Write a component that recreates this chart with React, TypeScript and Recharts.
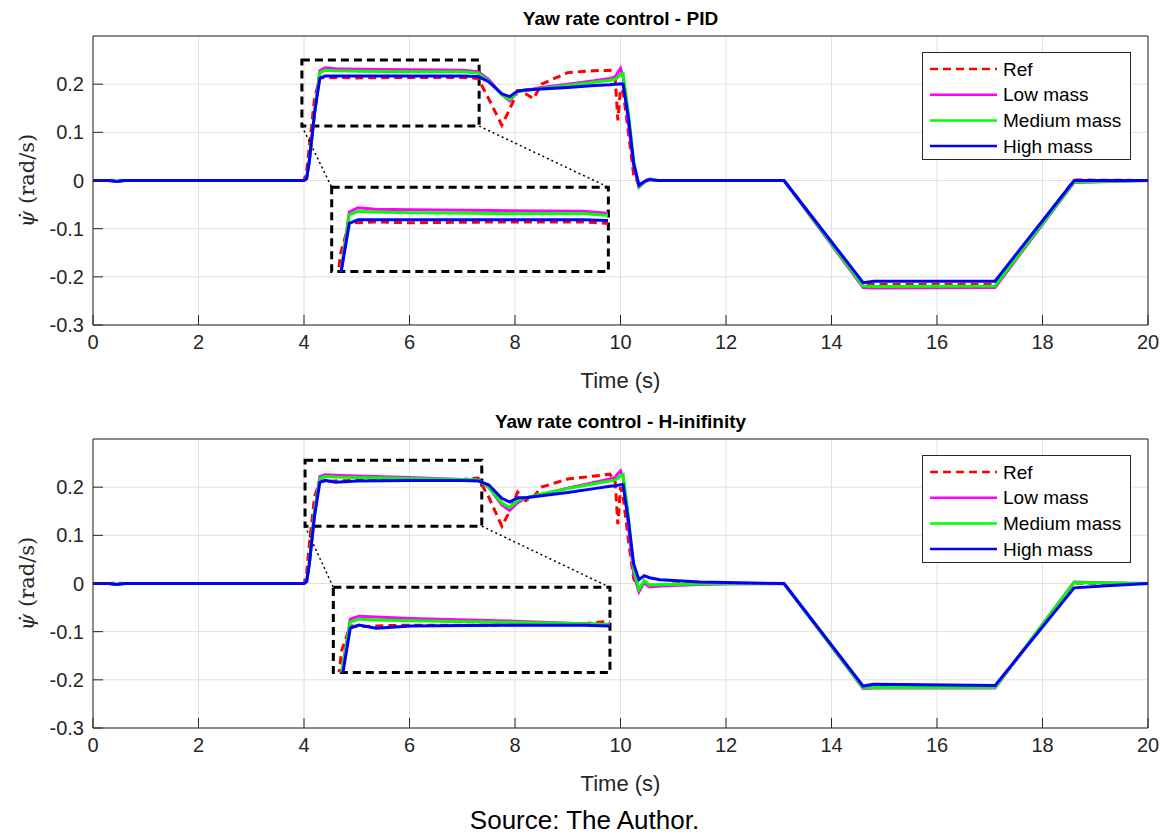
import React from "react";
import {
  LineChart, Line, XAxis, YAxis, CartesianGrid,
  ReferenceArea, ReferenceLine, Legend
} from "recharts";

// time axis and tick labels
const xTicks = [0, 2, 4, 6, 8, 10, 12, 14, 16, 18, 20];
const yTicks = [-0.3, -0.2, -0.1, 0, 0.1, 0.2];

// PID run (yaw rate, rad/s)
const pidTime = [0, 0.3, 0.45, 0.6, 4.0, 4.05, 4.1, 4.2, 4.3, 4.4, 4.6, 5, 6, 7, 7.3, 7.5, 7.75, 7.9, 8.05, 8.2, 8.35, 8.5, 9, 9.5, 9.8, 9.9, 9.95, 10.0, 10.05, 10.15, 10.25, 10.35, 10.45, 10.55, 10.7, 13.1, 14.6, 14.8, 17.1, 18.6, 20];
const pidRef = [0, 0, 0.001, 0, 0, 0.02, 0.07, 0.17, 0.214, 0.213, 0.214, 0.213, 0.214, 0.214, 0.212, 0.17, 0.115, 0.148, 0.186, 0.18, 0.17, 0.2, 0.224, 0.228, 0.229, 0.21, 0.125, 0.19, 0.185, 0.1, 0.012, -0.008, 0, 0.002, 0, 0, -0.215, -0.216, -0.216, 0.001, 0];
const pidLow = [0, 0, -0.002, 0, 0, 0.005, 0.04, 0.14, 0.228, 0.234, 0.232, 0.231, 0.23, 0.229, 0.226, 0.21, 0.178, 0.165, 0.185, 0.188, 0.19, 0.193, 0.2, 0.207, 0.212, 0.215, 0.224, 0.233, 0.215, 0.12, 0.03, -0.014, -0.004, 0.003, 0, 0, -0.222, -0.223, -0.222, -0.004, 0];
const pidMedium = [0, 0, -0.001, 0, 0, 0.005, 0.04, 0.14, 0.224, 0.229, 0.228, 0.227, 0.226, 0.226, 0.223, 0.207, 0.178, 0.168, 0.185, 0.187, 0.189, 0.191, 0.197, 0.204, 0.208, 0.21, 0.214, 0.221, 0.222, 0.14, 0.04, -0.013, -0.003, 0.003, 0, 0, -0.219, -0.22, -0.219, -0.003, 0];
const pidHigh = [0, 0, -0.002, 0, 0, 0.004, 0.04, 0.14, 0.212, 0.217, 0.217, 0.217, 0.217, 0.217, 0.216, 0.205, 0.18, 0.174, 0.186, 0.188, 0.189, 0.19, 0.193, 0.197, 0.199, 0.2, 0.2, 0.201, 0.2, 0.13, 0.035, -0.01, -0.002, 0.002, 0, 0, -0.212, -0.209, -0.209, 0, 0];

// H-infinity run
const hinfTime = [0, 0.3, 0.45, 0.6, 4.0, 4.05, 4.1, 4.2, 4.3, 4.4, 4.6, 5, 6, 7, 7.3, 7.5, 7.75, 7.9, 8.05, 8.2, 8.35, 8.5, 9, 9.5, 9.8, 9.9, 9.95, 10.0, 10.05, 10.15, 10.25, 10.35, 10.45, 10.55, 10.75, 11, 11.5, 12, 13.1, 14.6, 14.8, 17.1, 18.6, 19.3, 20];
const hinfRef = [0, 0, 0.001, 0, 0, 0.02, 0.08, 0.18, 0.213, 0.212, 0.213, 0.214, 0.214, 0.216, 0.219, 0.18, 0.119, 0.15, 0.19, 0.172, 0.18, 0.2, 0.217, 0.223, 0.227, 0.21, 0.123, 0.2, 0.18, 0.09, 0.01, -0.01, 0.002, -0.004, -0.002, -0.001, 0, 0, 0, -0.216, -0.216, -0.216, 0.001, 0, 0];
const hinfLow = [0, 0, -0.002, 0, 0, 0.005, 0.04, 0.15, 0.222, 0.226, 0.225, 0.223, 0.22, 0.216, 0.215, 0.2, 0.163, 0.152, 0.168, 0.177, 0.181, 0.185, 0.198, 0.21, 0.217, 0.22, 0.228, 0.234, 0.22, 0.12, 0.02, -0.017, 0.002, -0.007, -0.005, -0.004, -0.002, -0.001, 0, -0.218, -0.217, -0.217, 0.003, 0.001, 0];
const hinfMedium = [0, 0, -0.001, 0, 0, 0.005, 0.04, 0.15, 0.218, 0.222, 0.221, 0.22, 0.218, 0.216, 0.215, 0.2, 0.167, 0.158, 0.172, 0.178, 0.182, 0.186, 0.197, 0.207, 0.213, 0.215, 0.218, 0.224, 0.226, 0.14, 0.03, -0.012, 0.006, -0.003, -0.002, -0.002, -0.001, 0, 0, -0.217, -0.216, -0.216, 0.002, 0.001, 0];
const hinfHigh = [0, 0, -0.002, 0, 0, 0.004, 0.04, 0.14, 0.21, 0.214, 0.21, 0.213, 0.214, 0.214, 0.213, 0.205, 0.177, 0.169, 0.178, 0.178, 0.18, 0.182, 0.189, 0.197, 0.202, 0.203, 0.204, 0.205, 0.205, 0.13, 0.04, 0.008, 0.016, 0.012, 0.008, 0.006, 0.003, 0.002, 0, -0.213, -0.209, -0.212, -0.009, -0.004, 0];

const SERIES = [
  { key: "ref", name: "Ref", color: "#ff0000", dash: "8 5" },
  { key: "low", name: "Low mass", color: "#ff00ff" },
  { key: "medium", name: "Medium mass", color: "#00ff00" },
  { key: "high", name: "High mass", color: "#0000ff" },
];

// zoom annotations: source box, inset box (both in data units), and inset view limits
const pidZoom = {
  src: { x1: 3.96, x2: 7.32, y1: 0.113, y2: 0.25 },
  dst: { x1: 4.525, x2: 9.77, y1: -0.189, y2: -0.014 },
  view: { x: [4.1, 7.3], y: [0.145, 0.263] },
};
const hinfZoom = {
  src: { x1: 4.02, x2: 7.37, y1: 0.119, y2: 0.256 },
  dst: { x1: 4.556, x2: 9.8, y1: -0.185, y2: -0.008 },
  view: { x: [4.1, 7.3], y: [0.151, 0.265] },
};

const W = 1169;
const PANEL_H = 400;
const MARGIN = { top: 35, right: 20, bottom: 5, left: 0 };
const PLOT = { left: 93, right: 1148, top: 36, bottom: 325 };
const FONT = '"Liberation Sans", Arial, Helvetica, sans-serif';
const AXIS = "#262626";

const px = (x: number) => PLOT.left + (x / 20) * (PLOT.right - PLOT.left);
const py = (y: number) => PLOT.top + ((0.3 - y) / 0.6) * (PLOT.bottom - PLOT.top);

const LegendBox = () => (
  <div style={{ width: 209, height: 108, boxSizing: "border-box", border: `1px solid ${AXIS}`, background: "#fff" }}>
    <svg width={207} height={106}>
      {SERIES.map((s, i) => {
        const y = 16 + i * 25.7;
        return (
          <g key={s.key}>
            <line x1={7} x2={74} y1={y} y2={y} stroke={s.color} strokeWidth={2.5} strokeDasharray={s.dash} />
            <text x={80} y={y} dominantBaseline="central" fontFamily={FONT} fontSize={19} fill="#000">{s.name}</text>
          </g>
        );
      })}
    </svg>
  </div>
);

const YLabel = (props: any) => {
  const vb = props.viewBox || {};
  const cy = (vb.y || PLOT.top) + (vb.height || 289) / 2;
  const cx = 27;
  return (
    <text x={cx} y={cy} transform={`rotate(-90, ${cx}, ${cy})`} textAnchor="middle" dominantBaseline="central"
      fontFamily='"DejaVu Serif", "Liberation Serif", serif' fontSize={21} fill={AXIS}>
      <tspan fontStyle="italic">{"\u03C8\u0307"}</tspan>
      <tspan>{" (rad/s)"}</tspan>
    </text>
  );
};

function seriesLines() {
  return SERIES.map((s) => (
    <Line
      key={s.key}
      type="linear"
      dataKey={s.key}
      name={s.name}
      stroke={s.color}
      strokeWidth={3}
      strokeDasharray={s.dash}
      dot={false}
      activeDot={false}
      isAnimationActive={false}
    />
  ));
}

function Panel({ title, time, values, zoom, top }: any) {
  const rows = time.map((t: number, i: number) => ({
    t,
    ref: values[0][i],
    low: values[1][i],
    medium: values[2][i],
    high: values[3][i],
  }));
  const tickStyle = { fill: AXIS, fontSize: 20, fontFamily: FONT };
  const ix = px(zoom.dst.x1);
  const iy = py(zoom.dst.y2);
  const iw = px(zoom.dst.x2) - ix;
  const ih = py(zoom.dst.y1) - iy;
  const { src, dst } = zoom;

  return (
    <div style={{ position: "absolute", left: 0, top, width: W, height: PANEL_H }}>
      <div style={{
        position: "absolute", left: PLOT.left, width: PLOT.right - PLOT.left, top: 8,
        textAlign: "center", fontFamily: FONT, fontWeight: "bold", fontSize: 19, lineHeight: "22px", color: "#000"
      }}>{title}</div>
      <LineChart width={W} height={PANEL_H} data={rows} margin={MARGIN}>
        <CartesianGrid stroke="#e0e0e0" />
        <XAxis
          type="number" dataKey="t" domain={[0, 20]} ticks={xTicks} interval={0} allowDataOverflow
          height={70} tickSize={-10} tickMargin={20} tick={tickStyle}
          axisLine={{ stroke: AXIS }} tickLine={{ stroke: AXIS }}
          label={{ value: "Time (s)", position: "insideBottom", offset: 7, fill: AXIS, fontSize: 22, fontFamily: FONT }}
        />
        <XAxis
          xAxisId="top" orientation="top" type="number" dataKey="t" domain={[0, 20]} ticks={xTicks} interval={0}
          allowDataOverflow height={1} tickSize={-10} tick={false}
          axisLine={{ stroke: AXIS }} tickLine={{ stroke: AXIS }}
        />
        <YAxis
          type="number" domain={[-0.3, 0.3]} ticks={yTicks} interval={0} allowDataOverflow
          width={93} tickSize={-10} tickMargin={19} tick={tickStyle}
          axisLine={{ stroke: AXIS }} tickLine={{ stroke: AXIS }}
          label={<YLabel />}
        />
        <YAxis
          yAxisId="right" orientation="right" type="number" domain={[-0.3, 0.3]} ticks={yTicks} interval={0}
          allowDataOverflow width={1} tickSize={-10} tick={false}
          axisLine={{ stroke: AXIS }} tickLine={{ stroke: AXIS }}
        />
        {seriesLines()}
        <ReferenceArea x1={src.x1} x2={src.x2} y1={src.y1} y2={src.y2} fill="none" fillOpacity={0}
          stroke="#000" strokeWidth={3} strokeDasharray="8 5" />
        <ReferenceArea x1={dst.x1} x2={dst.x2} y1={dst.y1} y2={dst.y2} fill="none" fillOpacity={0}
          stroke="#000" strokeWidth={3} strokeDasharray="8 5" />
        <ReferenceLine segment={[{ x: src.x1, y: src.y1 }, { x: dst.x1, y: dst.y2 }]}
          stroke="#000" strokeWidth={1.5} strokeDasharray="2 3" />
        <ReferenceLine segment={[{ x: src.x2, y: src.y1 }, { x: dst.x2, y: dst.y2 }]}
          stroke="#000" strokeWidth={1.5} strokeDasharray="2 3" />
        <Legend
          layout="vertical" align="center" verticalAlign="middle"
          wrapperStyle={{ left: 922, top: 52, width: 209, height: 108 }}
          content={() => <LegendBox />}
        />
      </LineChart>
      <div style={{ position: "absolute", left: ix, top: iy, width: iw, height: ih }}>
        <LineChart width={iw} height={ih} data={rows} margin={{ top: 0, right: 0, bottom: 0, left: 0 }}>
          <XAxis type="number" dataKey="t" domain={zoom.view.x} allowDataOverflow hide />
          <YAxis type="number" domain={zoom.view.y} allowDataOverflow hide />
          {seriesLines()}
        </LineChart>
      </div>
    </div>
  );
}

export default function App() {
  return (
    <div style={{ position: "absolute", left: 0, top: 0, width: W, height: 834, background: "#fff", overflow: "hidden" }}>
      <Panel title="Yaw rate control - PID" time={pidTime}
        values={[pidRef, pidLow, pidMedium, pidHigh]} zoom={pidZoom} top={0} />
      <Panel title="Yaw rate control - H-inifinity" time={hinfTime}
        values={[hinfRef, hinfLow, hinfMedium, hinfHigh]} zoom={hinfZoom} top={403} />
      <div style={{
        position: "absolute", left: 0, width: W, top: 806, textAlign: "center",
        fontFamily: FONT, fontSize: 26, lineHeight: "28px", color: "#000"
      }}>Source: The Author.</div>
    </div>
  );
}
